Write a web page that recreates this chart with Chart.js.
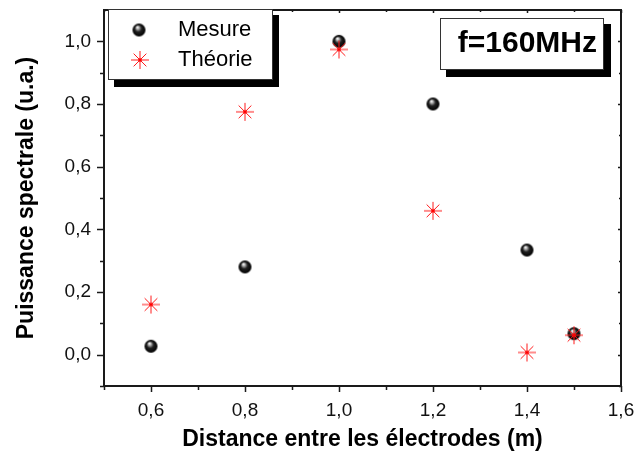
<!DOCTYPE html>
<html>
<head>
<meta charset="utf-8">
<script src="https://cdn.jsdelivr.net/npm/chart.js@4.4.1/dist/chart.umd.min.js"></script>
<style>
    html, body { margin: 0; padding: 0; background: #fff; }
</style>
</head>
<body>
<canvas id="chart" width="634" height="459"></canvas>
<script>
/* ---------- DATA ---------- */
const distances = [0.6, 0.8, 1.0, 1.2, 1.4, 1.5];
const mesure = [0.027, 0.28, 1.0, 0.80, 0.334, 0.067];
const theorie = [0.16, 0.775, 0.974, 0.459, 0.007, 0.062];

const xMajor = [0.6, 0.8, 1.0, 1.2, 1.4, 1.6];
const xMinor = [0.5, 0.7, 0.9, 1.1, 1.3, 1.5];
const yMajor = [0.0, 0.2, 0.4, 0.6, 0.8, 1.0];
const yMinor = [-0.1, 0.1, 0.3, 0.5, 0.7, 0.9];

const FONT = "'Liberation Sans', Arial, sans-serif";
const INK = "#1a1a1a";

/* ---------- MARKERS ---------- */
// shaded black ball
function makeBall(r) {
    const c = document.createElement("canvas");
    c.width = c.height = Math.ceil(r * 2 + 2);
    const g = c.getContext("2d");
    const cx = c.width / 2, cy = c.height / 2;
    const grad = g.createRadialGradient(cx - r * 0.25, cy - r * 0.45, 0.3, cx, cy, r);
    grad.addColorStop(0, "#ffffff");
    grad.addColorStop(0.18, "#b8b8b8");
    grad.addColorStop(0.5, "#202020");
    grad.addColorStop(1, "#000");
    g.fillStyle = grad;
    g.beginPath();
    g.arc(cx, cy, r, 0, Math.PI * 2);
    g.fill();
    return c;
}

// red asterisk with a small filled centre
function makeStar(r) {
    const c = document.createElement("canvas");
    c.width = c.height = r * 2 + 2;
    const g = c.getContext("2d");
    const cx = c.width / 2, cy = c.height / 2;
    g.strokeStyle = "#ff1a1a";
    g.lineWidth = 1;
    g.beginPath();
    for (let k = 0; k < 4; k++) {
        const a = k * Math.PI / 4;
        const dx = Math.cos(a) * r, dy = Math.sin(a) * r;
        g.moveTo(cx - dx, cy - dy); g.lineTo(cx + dx, cy + dy);
    }
    g.stroke();
    g.fillStyle = "#ff0000";
    g.beginPath();
    g.arc(cx, cy, 1.8, 0, Math.PI * 2);
    g.fill();
    return c;
}

const ball = makeBall(6.5);
const star = makeStar(9);

const fmt = v => v.toFixed(1).replace(".", ",");

// keep the plot box where the original one is
function noPad(s) {
    s.paddingLeft = s.paddingRight = s.paddingTop = s.paddingBottom = 0;
}

/* ---------- FRAME, TICKS, LEGEND, LABEL ---------- */
const decor = {
    id: "decor",
    afterDraw(chart) {
        const ctx = chart.ctx;
        const { left, right, top, bottom } = chart.chartArea;
        const xs = chart.scales.x, ys = chart.scales.y;
        ctx.save();

        // frame
        ctx.strokeStyle = INK;
        ctx.lineWidth = 2;
        ctx.strokeRect(left, top, right - left, bottom - top);

        // tick marks
        ctx.lineWidth = 1.5;
        ctx.beginPath();
        const xt = (vals, out, inn) => vals.forEach(v => {
            const px = Math.round(xs.getPixelForValue(v)) + 0.5;
            ctx.moveTo(px, bottom); ctx.lineTo(px, bottom + out);
            ctx.moveTo(px, top); ctx.lineTo(px, top + inn);
        });
        const yt = (vals, out, inn) => vals.forEach(v => {
            const py = Math.round(ys.getPixelForValue(v)) + 0.5;
            ctx.moveTo(left, py); ctx.lineTo(left - out, py);
            ctx.moveTo(right, py); ctx.lineTo(right - inn, py);
        });
        xt(xMajor, 6, 3); xt(xMinor, 4, 2);
        yt(yMajor, 7, 3); yt(yMinor, 4, 2);
        ctx.stroke();

        // axis titles
        ctx.fillStyle = "#000";
        ctx.font = "bold 23px " + FONT;
        ctx.textAlign = "center";
        ctx.textBaseline = "middle";
        ctx.fillText("Distance entre les électrodes (m)", (left + right) / 2, 440);
        ctx.save();
        ctx.translate(27, (top + bottom) / 2);
        ctx.rotate(-Math.PI / 2);
        ctx.fillText("Puissance spectrale (u.a.)", 0, 0);
        ctx.restore();

        // legend box with shadow
        ctx.fillStyle = "#000";
        ctx.fillRect(114, 15, 165, 72);
        ctx.fillStyle = "#fff";
        ctx.fillRect(108, 9, 165, 71);
        ctx.strokeStyle = "#333";
        ctx.lineWidth = 1;
        ctx.strokeRect(108.5, 9.5, 164, 70);
        ctx.drawImage(ball, 139 - ball.width / 2, 30 - ball.height / 2);
        ctx.drawImage(star, 140 - star.width / 2, 60 - star.height / 2);
        ctx.fillStyle = "#000";
        ctx.font = "22px " + FONT;
        ctx.textAlign = "left";
        ctx.fillText("Mesure", 178, 30);
        ctx.fillText("Théorie", 178, 60);

        // frequency label box
        ctx.fillStyle = "#000";
        ctx.fillRect(446, 24, 165, 53);
        ctx.fillStyle = "#fff";
        ctx.fillRect(440, 18, 164, 52);
        ctx.strokeStyle = "#333";
        ctx.strokeRect(440.5, 18.5, 163, 51);
        ctx.fillStyle = "#000";
        ctx.font = "bold 30px " + FONT;
        ctx.textAlign = "right";
        ctx.fillText("f=160MHz", 597, 44);

        ctx.restore();
    }
};

/* ---------- CHART ---------- */
new Chart(document.getElementById("chart"), {
    type: "scatter",
    data: {
        datasets: [
            {
                label: "Théorie",
                data: distances.map((d, i) => ({ x: d, y: theorie[i] })),
                pointStyle: star,
                pointRadius: 9,
                order: 0
            },
            {
                label: "Mesure",
                data: distances.map((d, i) => ({ x: d, y: mesure[i] })),
                pointStyle: ball,
                pointRadius: 6.5,
                order: 1
            }
        ]
    },
    options: {
        responsive: false,
        animation: false,
        devicePixelRatio: 1,
        layout: { padding: { top: 5, right: 13, left: 0, bottom: 0 } },
        plugins: { legend: { display: false }, tooltip: { enabled: false } },
        scales: {
            x: {
                type: "linear",
                min: 0.5,
                max: 1.6,
                afterBuildTicks: s => { s.ticks = xMajor.map(v => ({ value: v })); },
                afterFit: s => { s.height = 73; noPad(s); },
                grid: { display: false, drawTicks: false },
                border: { display: false },
                ticks: {
                    padding: 13,
                    color: "#111",
                    font: { family: FONT, size: 19 },
                    callback: v => fmt(v)
                }
            },
            y: {
                type: "linear",
                min: -0.1,
                max: 1.1,
                afterBuildTicks: s => { s.ticks = yMajor.map(v => ({ value: v })); },
                afterFit: s => { s.width = 104; noPad(s); },
                grid: { display: false, drawTicks: false },
                border: { display: false },
                ticks: {
                    padding: 13,
                    color: "#111",
                    font: { family: FONT, size: 19 },
                    callback: v => fmt(v)
                }
            }
        }
    },
    plugins: [decor]
});
</script>
</body>
</html>
